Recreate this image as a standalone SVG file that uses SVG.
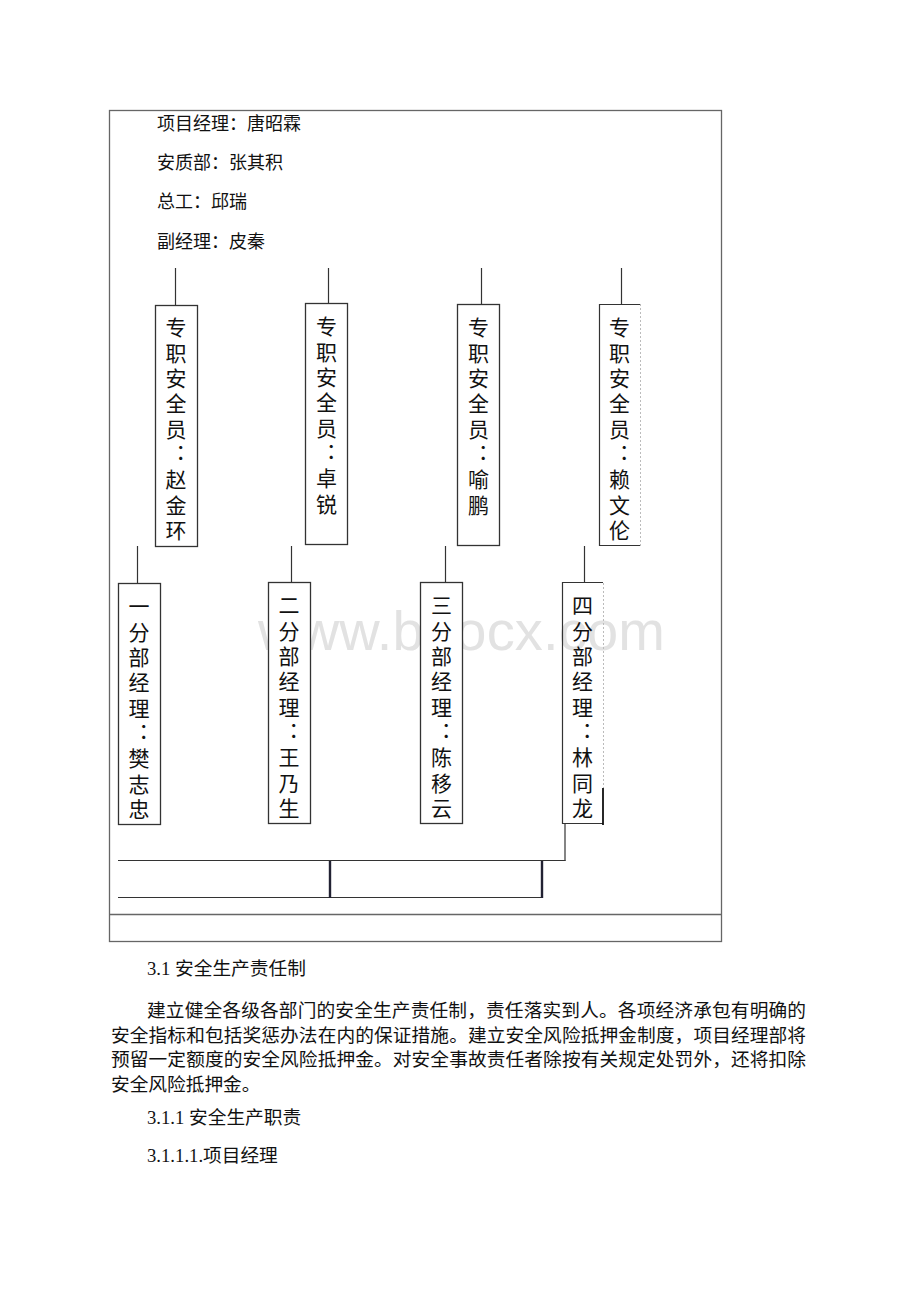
<svg xmlns="http://www.w3.org/2000/svg" width="920" height="1302" viewBox="0 0 920 1302">
<style>
.t{font-family:"Liberation Serif","Noto Sans CJK SC",serif;fill:#111}
.top{font-size:18px}
.p{font-size:18.7px}
.v{font-family:"Noto Sans CJK SC",sans-serif;font-size:21px;fill:#111;writing-mode:vertical-rl;text-orientation:upright;letter-spacing:4.3px}
.box{fill:#fff;stroke:#333;stroke-width:1.3}
.ln{stroke:#333;stroke-width:1.2;fill:none}
.thick{stroke:#223;stroke-width:2.4;fill:none}
.wm{font-family:"Liberation Sans",sans-serif;font-size:56px;fill:#e2e2e2}
</style>
<rect width="920" height="1302" fill="#fff"/>
<g id="frame">
<rect x="109.5" y="110.5" width="612" height="831" fill="none" stroke="#666" stroke-width="1.3"/>
<line x1="110" y1="914.5" x2="721" y2="914.5" stroke="#666" stroke-width="1.3"/>
</g>
<g id="header">
<text class="t top" x="157" y="130">项目经理：唐昭霖</text>
<text class="t top" x="157" y="169">安质部：张其积</text>
<text class="t top" x="157" y="208">总工：邱瑞</text>
<text class="t top" x="157" y="248">副经理：皮秦</text>
</g>
<text class="wm" x="258" y="650" textLength="407">www.bdocx.com</text>
<g id="connectors">
<line class="ln" x1="175.5" y1="268" x2="175.5" y2="305"/>
<line class="ln" x1="328.5" y1="268" x2="328.5" y2="303"/>
<line class="ln" x1="481.5" y1="268" x2="481.5" y2="304"/>
<line class="ln" x1="621.5" y1="268" x2="621.5" y2="304"/>
<line class="ln" x1="137.5" y1="546" x2="137.5" y2="583"/>
<line class="ln" x1="291.5" y1="546" x2="291.5" y2="582"/>
<line class="ln" x1="445.5" y1="546" x2="445.5" y2="582"/>
<line class="ln" x1="584.5" y1="546" x2="584.5" y2="582"/>
<line class="ln" x1="565" y1="823" x2="565" y2="861"/>
<line class="ln" x1="118" y1="860.5" x2="565.5" y2="860.5"/>
<line class="ln" x1="118" y1="897.5" x2="543" y2="897.5"/>
<line class="thick" x1="330" y1="861" x2="330" y2="898"/>
<line class="thick" x1="542" y1="861" x2="542" y2="898"/>
</g>
<g id="officer1">
<rect class="box" x="155.5" y="305.5" width="42" height="241"/>
<text class="v" x="176" y="317">专职安全员：赵金环</text>
</g>
<g id="officer2">
<rect class="box" x="305.5" y="303.5" width="42" height="241"/>
<text class="v" x="326.5" y="316">专职安全员：卓锐</text>
</g>
<g id="officer3">
<rect class="box" x="457.5" y="304.5" width="42" height="241"/>
<text class="v" x="478.5" y="317">专职安全员：喻鹏</text>
</g>
<g id="officer4">
<path class="ln" d="M640,304.5 H599.5 V545.5 H640"/>
<line x1="640.5" y1="304" x2="640.5" y2="546" stroke="#bbb" stroke-width="1" stroke-dasharray="2,2"/>
<text class="v" x="619.5" y="317">专职安全员：赖文伦</text>
</g>
<g id="manager1">
<rect class="box" x="118.5" y="583.5" width="42" height="241"/>
<text class="v" x="139" y="596">一分部经理：樊志忠</text>
</g>
<g id="manager2">
<rect class="box" x="268.5" y="582.5" width="42" height="241"/>
<text class="v" x="289" y="595">二分部经理：王乃生</text>
</g>
<g id="manager3">
<rect class="box" x="420.5" y="582.5" width="42" height="241"/>
<text class="v" x="441.5" y="595">三分部经理：陈移云</text>
</g>
<g id="manager4">
<path class="ln" d="M603,582.5 H562.5 V823.5 H603"/>
<line x1="603.5" y1="583" x2="603.5" y2="788" stroke="#bbb" stroke-width="1" stroke-dasharray="2,2"/>
<line x1="603" y1="788" x2="603" y2="825" stroke="#111" stroke-width="1.8"/>
<text class="v" x="582.5" y="595">四分部经理：林同龙</text>
</g>
<g id="body">
<text class="t p" x="147" y="975">3.1 安全生产责任制</text>
<text class="t p" x="147" y="1017" textLength="659" lengthAdjust="spacing">建立健全各级各部门的安全生产责任制，责任落实到人。各项经济承包有明确的</text>
<text class="t p" x="111" y="1042" textLength="695" lengthAdjust="spacing">安全指标和包括奖惩办法在内的保证措施。建立安全风险抵押金制度，项目经理部将</text>
<text class="t p" x="111" y="1066" textLength="695" lengthAdjust="spacing">预留一定额度的安全风险抵押金。对安全事故责任者除按有关规定处罚外，还将扣除</text>
<text class="t p" x="111" y="1091">安全风险抵押金。</text>
<text class="t p" x="147" y="1124">3.1.1 安全生产职责</text>
<text class="t p" x="147" y="1162">3.1.1.1.项目经理</text>
</g>
</svg>
